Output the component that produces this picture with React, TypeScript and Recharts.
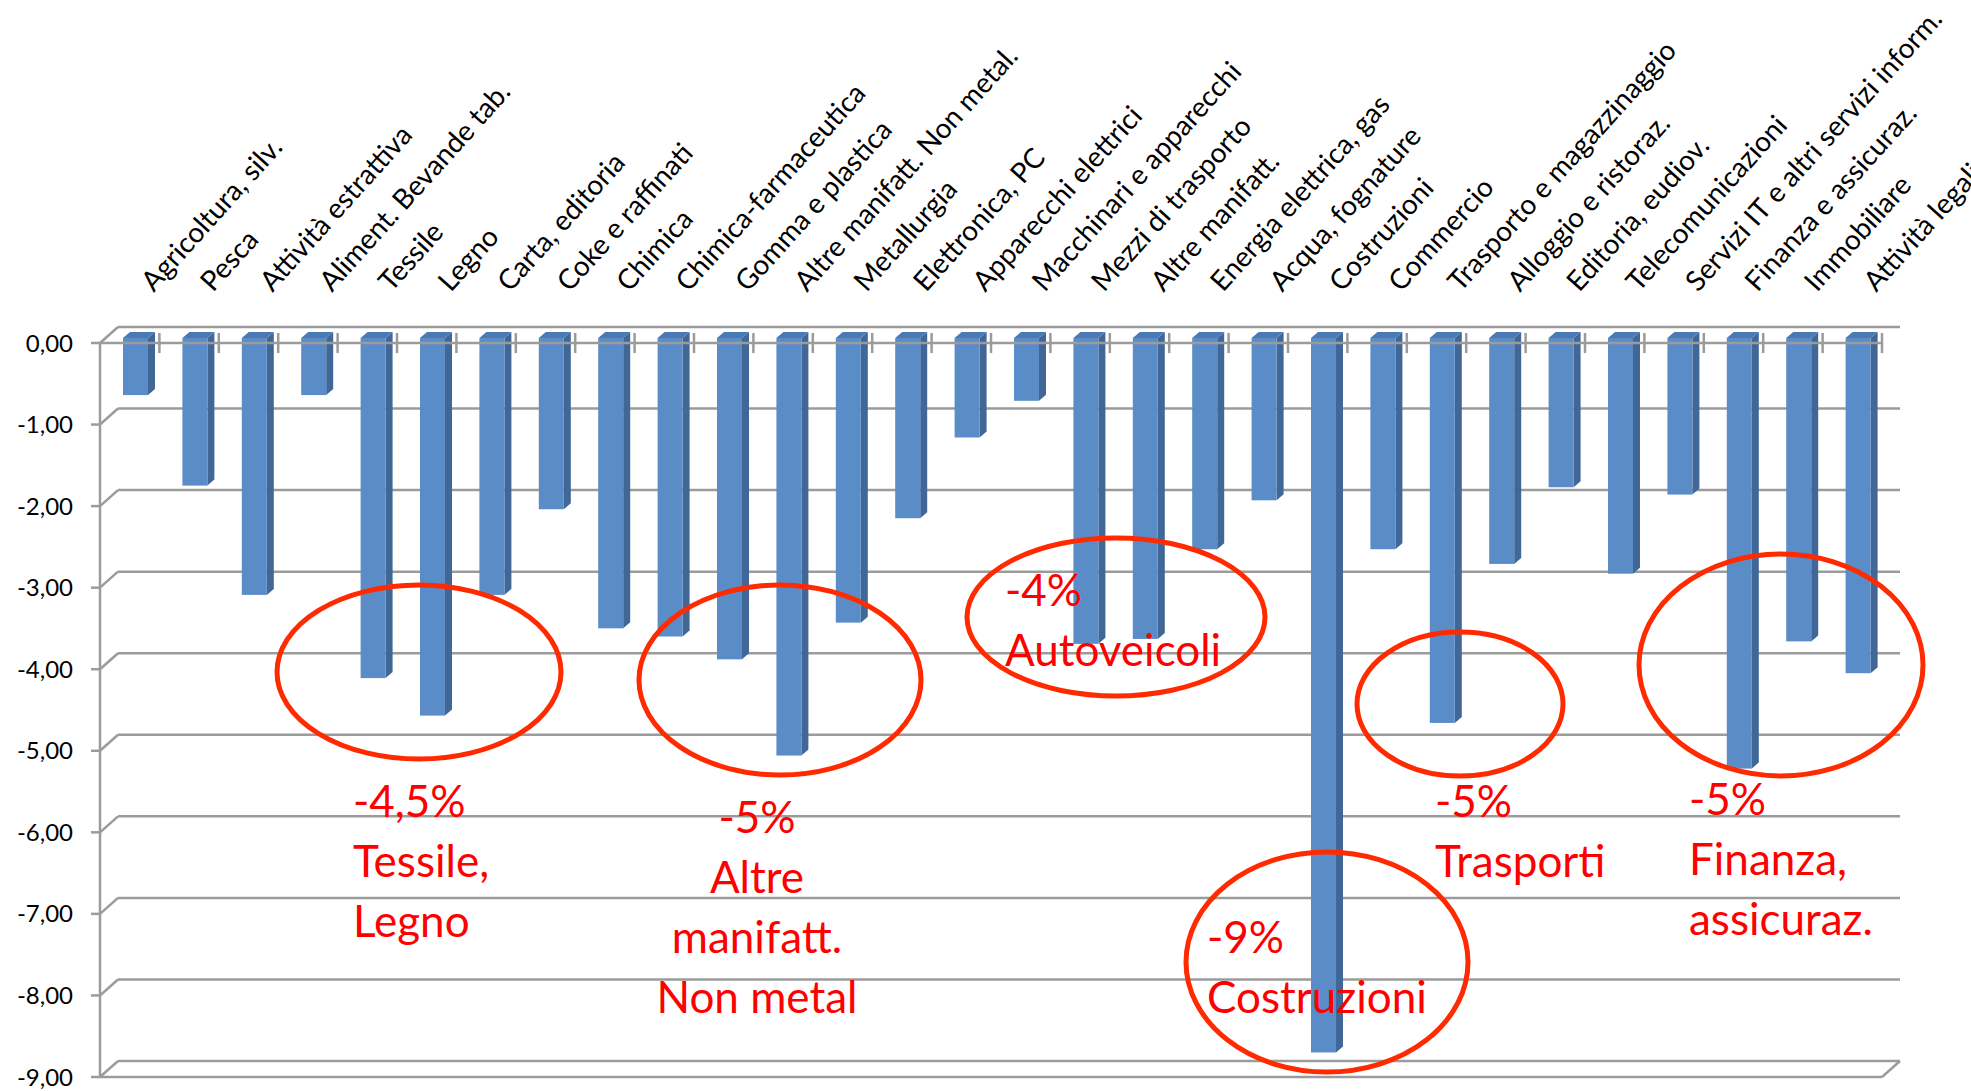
import { Bar, BarChart, CartesianGrid, ReferenceLine, XAxis, YAxis } from "recharts";

const SECTORS = [
  "Agricoltura, silv.",
  "Pesca",
  "Attività estrattiva",
  "Aliment. Bevande tab.",
  "Tessile",
  "Legno",
  "Carta, editoria",
  "Coke e raffinati",
  "Chimica",
  "Chimica-farmaceutica",
  "Gomma e plastica",
  "Altre manifatt. Non metal.",
  "Metallurgia",
  "Elettronica, PC",
  "Apparecchi elettrici",
  "Macchinari e apparecchi",
  "Mezzi di trasporto",
  "Altre manifatt.",
  "Energia elettrica, gas",
  "Acqua, fognature",
  "Costruzioni",
  "Commercio",
  "Trasporto e magazzinaggio",
  "Alloggio e ristoraz.",
  "Editoria, eudiov.",
  "Telecomunicazioni",
  "Servizi IT e altri servizi inform.",
  "Finanza e assicuraz.",
  "Immobiliare",
  "Attività legali",
];

const VARIAZIONI = [
  -0.7, -1.81, -3.15, -0.7, -4.17, -4.63, -3.15, -2.1, -3.56, -3.66,
  -3.94, -5.12, -3.49, -2.21, -1.22, -0.77, -3.75, -3.69, -2.59, -1.99,
  -8.76, -2.59, -4.72, -2.77, -1.83, -2.89, -1.92, -5.28, -3.72, -4.11,
];

const Y_TICKS = [0, -1, -2, -3, -4, -5, -6, -7, -8, -9];

const CALLOUT_TEXTS = [
  ["-4,5%", "Tessile,", "Legno"],
  ["-5%", "Altre", "manifatt.", "Non metal"],
  ["-4%", "Autoveicoli"],
  ["-9%", "Costruzioni"],
  ["-5%", "Trasporti"],
  ["-5%", "Finanza,", "assicuraz."],
];

const data = SECTORS.map((name, i) => ({ name, value: VARIAZIONI[i] }));

// layout of the slide overlay (pixels)
const CALLOUT_LAYOUT = [
  { ellipse: [419, 672, 142, 87], x: 353, y: 817, anchor: "start" },
  { ellipse: [780, 680, 141, 95], x: 757, y: 833, anchor: "middle" },
  { ellipse: [1116, 617, 149, 79], x: 1005, y: 606, anchor: "start" },
  { ellipse: [1327, 962, 141, 110], x: 1207, y: 953, anchor: "start" },
  { ellipse: [1460, 704, 103, 72], x: 1435, y: 817, anchor: "start" },
  { ellipse: [1781, 665, 142, 111], x: 1689, y: 815, anchor: "start" },
];

const COLORS = {
  front: "#5A8DC8",
  side: "#416797",
  top: "#4A79B3",
  grid: "#9B9B9B",
  text: "#000000",
  ring: "#FF2A00",
  note: "#FF0000",
};

const FONT = "Lato, 'Open Sans', sans-serif";
const DEPTH_X = 18;
const DEPTH_Y = 16;
const BAR_SHIFT_X = 6;
const BAR_SHIFT_Y = 5;
const BAR_DX = 7;
const BAR_DY = 6;

function formatTick(v: number) {
  return v.toFixed(2).replace(".", ",");
}

function Bar3D(props: any) {
  const { x, y, width, height } = props;
  if (x == null || y == null) return null;
  const top = Math.min(y, y + height) - BAR_SHIFT_Y;
  const h = Math.abs(height);
  const left = x + BAR_SHIFT_X;
  const right = left + width;
  return (
    <g>
      <polygon
        points={`${right},${top} ${right + BAR_DX},${top - BAR_DY} ${right + BAR_DX},${top + h - BAR_DY} ${right},${top + h}`}
        fill={COLORS.side}
      />
      <polygon
        points={`${left},${top} ${left + BAR_DX},${top - BAR_DY} ${right + BAR_DX},${top - BAR_DY} ${right},${top}`}
        fill={COLORS.top}
      />
      <rect x={left} y={top} width={width} height={h} fill={COLORS.front} />
    </g>
  );
}

function SectorTick(props: any) {
  const { x, y, payload } = props;
  const half = payload?.offset ?? 29.7;
  const tx = x + 24;
  const ty = y - 50;
  return (
    <g>
      <line x1={x + half} x2={x + half} y1={y - 10} y2={y + 10} stroke={COLORS.grid} strokeWidth={2.5} />
      <text
        x={tx}
        y={ty}
        transform={`rotate(-48, ${tx}, ${ty})`}
        textAnchor="start"
        fontFamily={FONT}
        fontSize={28}
        fill={COLORS.text}
      >
        {payload.value}
      </text>
    </g>
  );
}

function BackGridLine(props: any) {
  const { x1, y1, x2 } = props;
  return (
    <g key={props.key}>
      <line x1={x1} y1={y1} x2={x1 + DEPTH_X} y2={y1 - DEPTH_Y} stroke={COLORS.grid} strokeWidth={2.5} />
      <line x1={x1 + DEPTH_X} y1={y1 - DEPTH_Y} x2={x2 + DEPTH_X} y2={y1 - DEPTH_Y} stroke={COLORS.grid} strokeWidth={2.5} />
    </g>
  );
}

function FloorLine(props: any) {
  const { x1, y1, x2, y2 } = props;
  return (
    <g>
      <line x1={x1} y1={y1} x2={x2} y2={y2} stroke={COLORS.grid} strokeWidth={2.5} />
      <line x1={x2} y1={y2} x2={x2 + DEPTH_X} y2={y2 - DEPTH_Y} stroke={COLORS.grid} strokeWidth={2.5} />
    </g>
  );
}

export default function App() {
  return (
    <div
      style={{
        position: "absolute",
        left: 0,
        top: 0,
        width: 1971,
        height: 1091,
        overflow: "hidden",
        background: "#ffffff",
      }}
    >
      <BarChart
        width={1971}
        height={1091}
        data={data}
        margin={{ top: 283, right: 89, bottom: 14, left: 0 }}
        barSize={25}
      >
        <CartesianGrid vertical={false} horizontal={(p: any) => <BackGridLine {...p} />} />
        <YAxis
          width={100}
          domain={[-9, 0]}
          ticks={Y_TICKS}
          interval={0}
          tickFormatter={formatTick}
          axisLine={{ stroke: COLORS.grid, strokeWidth: 2.5 }}
          tickLine={{ stroke: COLORS.grid, strokeWidth: 2.5 }}
          tickSize={9}
          tickMargin={18}
          tick={{ fill: COLORS.text, fontSize: 24, fontFamily: FONT }}
        />
        <XAxis
          dataKey="name"
          orientation="top"
          height={60}
          interval={0}
          tickSize={0}
          tickMargin={0}
          tickLine={false}
          axisLine={{ stroke: COLORS.grid, strokeWidth: 2.5 }}
          tick={<SectorTick />}
        />
        <ReferenceLine y={-9} shape={(p: any) => <FloorLine {...p} />} />
        <Bar dataKey="value" shape={<Bar3D />} isAnimationActive={false} />
      </BarChart>
      <svg
        width={1971}
        height={1091}
        style={{ position: "absolute", left: 0, top: 0, pointerEvents: "none" }}
      >
        {CALLOUT_LAYOUT.map((c, i) => (
          <g key={i}>
            <ellipse
              cx={c.ellipse[0]}
              cy={c.ellipse[1]}
              rx={c.ellipse[2]}
              ry={c.ellipse[3]}
              fill="none"
              stroke={COLORS.ring}
              strokeWidth={5}
            />
            {CALLOUT_TEXTS[i].map((line, j) => (
              <text
                key={j}
                x={c.x}
                y={c.y + j * 60}
                textAnchor={c.anchor as any}
                fontFamily={FONT}
                fontSize={44}
                fill={COLORS.note}
              >
                {line}
              </text>
            ))}
          </g>
        ))}
      </svg>
    </div>
  );
}
